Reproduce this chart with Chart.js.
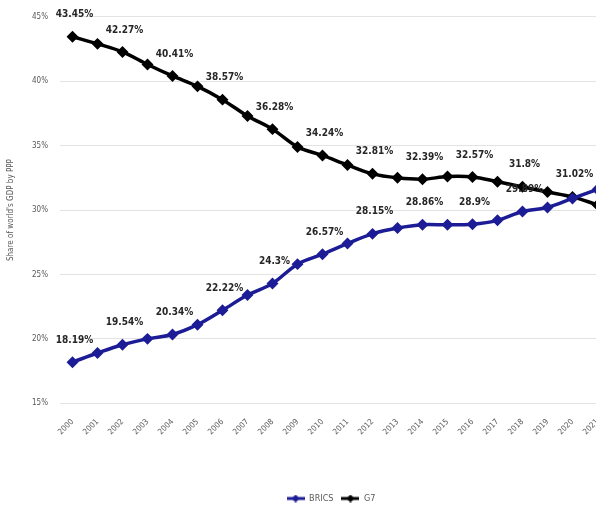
<!DOCTYPE html>
<html lang="en">
<head>
  <meta charset="UTF-8">
  <title>BRICS vs G7 - share of world GDP by PPP</title>
  <script src="https://cdn.jsdelivr.net/npm/chart.js"></script>
  <style>
    body {
      margin: 0;
      background: #fff;
      overflow: hidden;
    }
    #wrap {
      width: 660px;
      height: 515px;
    }
  </style>
</head>
<body>
  <div id="wrap"><canvas id="gdpChart"></canvas></div>

  <script>
    // years on the x axis
    const years = ['2000', '2001', '2002', '2003', '2004', '2005', '2006', '2007', '2008', '2009', '2010',
                   '2011', '2012', '2013', '2014', '2015', '2016', '2017', '2018', '2019', '2020', '2021'];

    // share of world GDP (PPP), %
    const brics = [18.19, 18.9, 19.54, 20.0, 20.34, 21.1, 22.22, 23.4, 24.3, 25.8, 26.57,
                   27.4, 28.15, 28.6, 28.86, 28.85, 28.9, 29.2, 29.89, 30.2, 30.9, 31.6];
    const g7 = [43.45, 42.9, 42.27, 41.3, 40.41, 39.6, 38.57, 37.3, 36.28, 34.9, 34.24,
                33.5, 32.81, 32.5, 32.39, 32.6, 32.57, 32.2, 31.8, 31.4, 31.02, 30.4];

    // years that carry a value label
    const bricsLabelled = ['2000', '2002', '2004', '2006', '2008', '2010', '2012', '2014', '2016', '2018'];
    const g7Labelled = ['2000', '2002', '2004', '2006', '2008', '2010', '2012', '2014', '2016', '2018', '2020'];

    const yTicks = [15, 20, 25, 30, 35, 40, 45];

    const navy = '#1c1c96';
    const grey = '#595959';
    const font = "'Liberation Sans Narrow', 'DejaVu Sans Condensed', Arial, sans-serif";

    // legend marker: short line with a diamond on it
    function legendMarker(color) {
      const c = document.createElement('canvas');
      c.width = 18;
      c.height = 8;
      const g = c.getContext('2d');
      g.strokeStyle = color;
      g.lineWidth = 3;
      g.beginPath();
      g.moveTo(0, 4);
      g.lineTo(18, 4);
      g.stroke();
      g.fillStyle = color;
      g.beginPath();
      g.moveTo(9, 0);
      g.lineTo(13, 4);
      g.lineTo(9, 8);
      g.lineTo(5, 4);
      g.closePath();
      g.fill();
      return c;
    }

    // value labels above the chosen points
    const valueLabels = {
      id: 'valueLabels',
      afterDatasetsDraw(chart) {
        const ctx = chart.ctx;
        ctx.save();
        ctx.font = 'bold 10px ' + font;
        ctx.fillStyle = '#262626';
        ctx.textAlign = 'center';
        ctx.textBaseline = 'middle';
        chart.data.datasets.forEach((ds, di) => {
          const meta = chart.getDatasetMeta(di);
          chart.data.labels.forEach((yr, i) => {
            if (!ds.labelled.includes(yr)) return;
            const pt = meta.data[i];
            ctx.fillText(ds.data[i] + '%', pt.x + 2, pt.y - 22);
          });
        });
        ctx.restore();
      }
    };

    const ctx = document.getElementById('gdpChart').getContext('2d');
    new Chart(ctx, {
      type: 'line',
      data: {
        labels: years,
        datasets: [
          {
            label: 'BRICS',
            data: brics,
            labelled: bricsLabelled,
            borderColor: navy,
            backgroundColor: navy,
            borderWidth: 3.5,
            pointStyle: 'rectRot',
            pointRadius: 3.5,
            tension: 0.35
          },
          {
            label: 'G7',
            data: g7,
            labelled: g7Labelled,
            borderColor: '#000',
            backgroundColor: '#000',
            borderWidth: 3.5,
            pointStyle: 'rectRot',
            pointRadius: 3.5,
            tension: 0.35
          }
        ]
      },
      options: {
        responsive: true,
        maintainAspectRatio: false,
        animation: false,
        layout: { padding: { left: 2, right: 0, top: 11, bottom: 2 } },
        scales: {
          x: {
            offset: true,
            grid: { display: false },
            border: { display: false },
            ticks: {
              color: grey,
              font: { family: font, size: 8 },
              minRotation: 45,
              maxRotation: 45,
              padding: 6
            },
            afterFit(scale) { scale.height += 43; }
          },
          y: {
            min: 15,
            max: 45,
            afterBuildTicks(scale) { scale.ticks = yTicks.map(v => ({ value: v })); },
            grid: { color: '#e3e3e3', drawTicks: false },
            border: { display: false },
            ticks: {
              color: grey,
              font: { family: font, size: 8 },
              padding: 12,
              callback: v => v + '%'
            },
            title: {
              display: true,
              text: "Share of world's GDP by PPP",
              color: grey,
              font: { family: font, size: 8 }
            },
            afterFit(scale) { scale.width = 58; }
          },
          // empty right-hand strip, keeps the plot area where it is in the original
          spacer: {
            type: 'linear',
            position: 'right',
            grid: { display: false },
            border: { display: false },
            ticks: { display: false },
            afterFit(scale) { scale.width = 50; }
          }
        },
        plugins: {
          legend: {
            position: 'bottom',
            labels: {
              usePointStyle: true,
              pointStyleWidth: 18,
              boxHeight: 8,
              padding: 8,
              color: grey,
              font: { family: font, size: 9 },
              generateLabels(chart) {
                return chart.data.datasets.map((ds, i) => ({
                  text: ds.label,
                  pointStyle: legendMarker(ds.borderColor),
                  fillStyle: ds.borderColor,
                  strokeStyle: ds.borderColor,
                  fontColor: grey,
                  lineWidth: 0,
                  hidden: false,
                  datasetIndex: i
                }));
              }
            }
          },
          tooltip: { enabled: false }
        }
      },
      plugins: [valueLabels]
    });
  </script>
</body>
</html>
